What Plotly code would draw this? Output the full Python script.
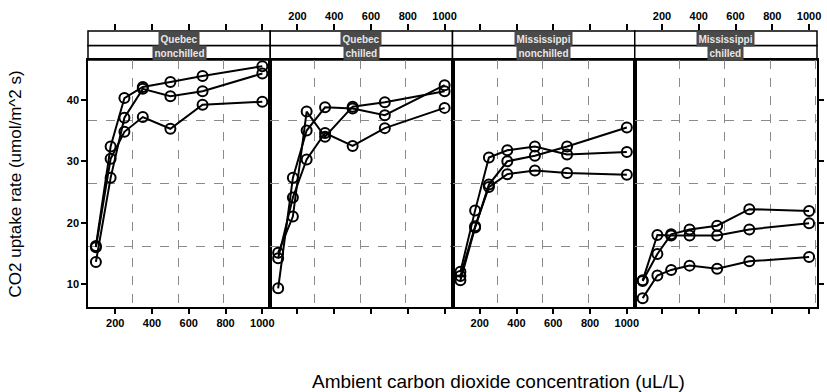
import plotly.graph_objects as go

# ---- data (CO2 uptake) ----
conc = [95, 175, 250, 350, 500, 675, 1000]

qn1 = [16.0, 30.4, 34.8, 37.2, 35.3, 39.2, 39.7]
qn2 = [13.6, 27.3, 37.1, 41.8, 40.6, 41.4, 44.3]
qn3 = [16.2, 32.4, 40.3, 42.1, 42.9, 43.9, 45.5]
qc1 = [14.2, 24.1, 30.3, 34.6, 32.5, 35.4, 38.7]
qc2 = [9.3, 27.3, 35.0, 38.8, 38.6, 37.5, 42.4]
qc3 = [15.1, 21.0, 38.1, 34.0, 38.9, 39.6, 41.4]
mn1 = [10.6, 19.2, 26.2, 30.0, 30.9, 32.4, 35.5]
mn2 = [12.0, 22.0, 30.6, 31.8, 32.4, 31.1, 31.5]
mn3 = [11.3, 19.4, 25.8, 27.9, 28.5, 28.1, 27.8]
mc1 = [10.5, 14.9, 18.1, 18.9, 19.5, 22.2, 21.9]
mc2 = [7.7, 11.4, 12.3, 13.0, 12.5, 13.7, 14.4]
mc3 = [10.6, 18.0, 17.9, 17.9, 17.9, 18.9, 19.9]

panel_types = ["Quebec", "Quebec", "Mississippi", "Mississippi"]
panel_treatments = ["nonchilled", "chilled", "nonchilled", "chilled"]
panel_series = [[qn1, qn2, qn3], [qc1, qc2, qc3], [mn1, mn2, mn3], [mc1, mc2, mc3]]

x_ticks = [200, 400, 600, 800, 1000]
y_ticks = [10, 20, 30, 40]

# ---- layout geometry ----
W, H = 827, 392
ml, mr, mt, mb = 88, 5, 31, 85
plot_h = H - mt - mb
plot_w = W - ml - mr
panel_dom = [0, 1 - (60 - mt) / plot_h]
strip_dom = [panel_dom[1], 1]
xr = [52, 1043]
yr = [6.26, 46.5]

FONT = "Liberation Sans, Arial, Helvetica, sans-serif"
tickfont = dict(family=FONT, size=11, color="black", weight="bold")
GRID = "#8a8a8a"


def py(ypix):
    return (H - mb - ypix) / plot_h


fig = go.Figure()
layout = {}
shapes = []
annotations = []

for i in range(4):
    n = i + 1          # main panel axes
    s = i + 5          # strip / top axes
    xd = [i / 4, (i + 1) / 4]
    for ys in panel_series[i]:
        fig.add_trace(go.Scatter(
            x=conc, y=ys, mode="lines+markers",
            line=dict(color="black", width=2),
            marker=dict(symbol="circle-open", size=10, color="black",
                        line=dict(width=2, color="black")),
            xaxis=f"x{n}", yaxis=f"y{n}", showlegend=False, hoverinfo="skip"))
    # bottom x axis
    layout[f"xaxis{n}"] = dict(
        domain=xd, range=xr, anchor=f"y{n}", side="bottom",
        tickvals=x_ticks, ticks="outside", ticklen=5, tickwidth=1.5,
        tickcolor="black", showticklabels=(i % 2 == 0), tickfont=tickfont,
        showline=True, linecolor="black", linewidth=1.5, mirror=True,
        showgrid=False, zeroline=False,
        minor=dict(tick0=295, dtick=247.5, showgrid=True, gridcolor=GRID,
                   griddash="dash", gridwidth=1, ticks=""))
    # panel y axis
    yax = dict(
        domain=panel_dom, range=yr, anchor=f"x{n}",
        tickvals=y_ticks, showline=True, linecolor="black", linewidth=1.5,
        mirror=True, showgrid=False, zeroline=False, tickfont=tickfont,
        minor=dict(tick0=16.1, dtick=10.25, showgrid=True, gridcolor=GRID,
                   griddash="dash", gridwidth=1, ticks=""))
    if i == 0:
        yax.update(ticks="outside", ticklen=5, tickwidth=1.5, tickcolor="black",
                   showticklabels=True, side="left")
    elif i == 3:
        yax.update(ticks="outside", ticklen=5, tickwidth=1.5, tickcolor="black",
                   showticklabels=False, side="right")
    else:
        yax.update(ticks="", showticklabels=False)
    layout[f"yaxis{n}"] = yax
    # top x axis above the strips
    layout[f"xaxis{s}"] = dict(
        domain=xd, range=xr, anchor=f"y{s}", side="top",
        tickvals=x_ticks, ticks="outside", ticklen=6, tickwidth=1.5,
        tickcolor="black", showticklabels=(i % 2 == 1), tickfont=tickfont,
        showline=False, showgrid=False, zeroline=False)
    layout[f"yaxis{s}"] = dict(
        domain=strip_dom, range=[0, 2], anchor=f"x{s}", visible=False,
        fixedrange=True)
    fig.add_trace(go.Scatter(x=[None], y=[None], xaxis=f"x{s}", yaxis=f"y{s}",
                             showlegend=False, hoverinfo="skip"))
    # strips
    for (lo, hi) in [(0, 0.5), (0.5, 1)]:
        shapes.append(dict(type="rect", xref=f"x{s} domain", yref=f"y{s} domain",
                           x0=0, x1=1, y0=lo, y1=hi, fillcolor="white",
                           line=dict(color="black", width=1.5), layer="below"))
    cx = (xd[0] + xd[1]) / 2
    for label, ypix in [(panel_types[i], 38.8), (panel_treatments[i], 53.2)]:
        annotations.append(dict(
            text=label, xref="paper", yref="paper", x=cx, y=py(ypix),
            xanchor="center", yanchor="middle", showarrow=False,
            bgcolor="#4a4a4a", borderpad=1.5,
            font=dict(family=FONT, size=10, color="#e6e6e6", weight="bold")))

annotations.append(dict(
    text="Ambient carbon dioxide concentration (uL/L)", xref="paper", yref="paper",
    x=(501 - ml) / plot_w, y=py(381), showarrow=False,
    xanchor="center", yanchor="middle",
    font=dict(family=FONT, size=19, color="black")))
annotations.append(dict(
    text="CO2 uptake rate (umol/m^2 s)", xref="paper", yref="paper",
    x=(15 - ml) / plot_w, y=py(184), showarrow=False,
    textangle=-90, xanchor="center", yanchor="middle",
    font=dict(family=FONT, size=17, color="black")))

fig.update_layout(
    width=W, height=H, margin=dict(l=ml, r=mr, t=mt, b=mb),
    paper_bgcolor="white", plot_bgcolor="white",
    shapes=shapes, annotations=annotations, showlegend=False,
    **layout)

fig.write_html("out.html")
